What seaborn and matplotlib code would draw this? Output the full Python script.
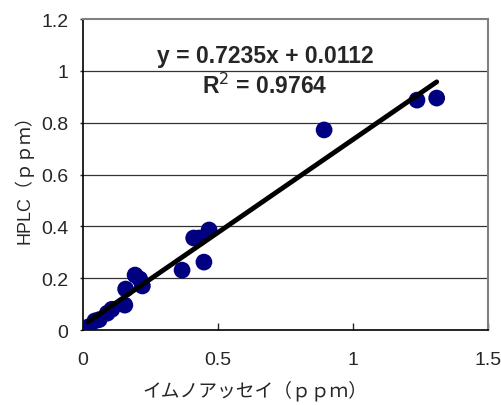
import matplotlib
matplotlib.use("Agg")
import matplotlib.pyplot as plt
import seaborn as sns
import pandas as pd

# immunoassay vs HPLC values (ppm)
immuno = [0.02, 0.044, 0.06, 0.09, 0.107, 0.155, 0.158, 0.193, 0.21, 0.22,
          0.367, 0.41, 0.43, 0.448, 0.467, 0.893, 1.237, 1.31]
hplc = [0.012, 0.035, 0.04, 0.065, 0.08, 0.096, 0.158, 0.212, 0.197, 0.17,
        0.231, 0.355, 0.355, 0.262, 0.386, 0.772, 0.887, 0.895]
eq_text = "y = 0.7235x + 0.0112"
r2_text = "R$^2$ = 0.9764"

df = pd.DataFrame({"immuno": immuno, "hplc": hplc})

sns.set_style("white")
plt.rcParams['font.family'] = ['Liberation Sans', 'Noto Sans CJK JP']

fig = plt.figure(figsize=(5.02, 4.06), dpi=100)
ax = fig.add_axes([0.1653, 0.1847, 0.8068, 0.766])

ax.set_xlim(0, 1.5)
ax.set_ylim(0, 1.2)
ax.set_yticks([0, 0.2, 0.4, 0.6, 0.8, 1.0, 1.2])
ax.set_yticklabels(["0", "0.2", "0.4", "0.6", "0.8", "1", "1.2"])
ax.set_xticks([0, 0.5, 1.0, 1.5])
ax.set_xticklabels(["0", "0.5", "1", "1.5"])

for yv in [0.2, 0.4, 0.6, 0.8, 1.0]:
    ax.axhline(yv, color="#333333", lw=0.9, zorder=0)

sns.scatterplot(data=df, x="immuno", y="hplc", ax=ax, color="#000080",
                s=145, edgecolor="none", zorder=3, legend=False)
sns.regplot(data=df, x="immuno", y="hplc", ax=ax, scatter=False, ci=None,
            truncate=True, line_kws={"color": "black", "lw": 3.5, "zorder": 4})

ax.text(0.449, 0.884, eq_text, transform=ax.transAxes, ha="center", va="center",
        fontsize=16.5, fontweight="bold")
ax.text(0.449, 0.788, r2_text, transform=ax.transAxes, ha="center", va="center",
        fontsize=16.5, fontweight="bold")

for s in ["left", "bottom"]:
    ax.spines[s].set_color("black")
    ax.spines[s].set_linewidth(1.2)
for s in ["top", "right"]:
    ax.spines[s].set_color("#808080")
    ax.spines[s].set_linewidth(1.5)

ax.tick_params(axis="x", direction="in", length=5, width=1, pad=15, labelsize=14, bottom=True)
ax.tick_params(axis="y", direction="out", length=2, width=1, pad=8.5, labelsize=14, left=True)

ax.set_xlabel("イムノアッセイ（ｐｐｍ）", fontsize=13.5,
              family=['Noto Sans CJK JP'])
ax.xaxis.set_label_coords(0.425, -0.16)
ax.set_ylabel("HPLC（ｐｐｍ）", fontsize=13,
              family=['Liberation Sans', 'Noto Sans CJK JP'])
ax.yaxis.set_label_coords(-0.123, 0.5)

fig.savefig("out.png", dpi=100)
